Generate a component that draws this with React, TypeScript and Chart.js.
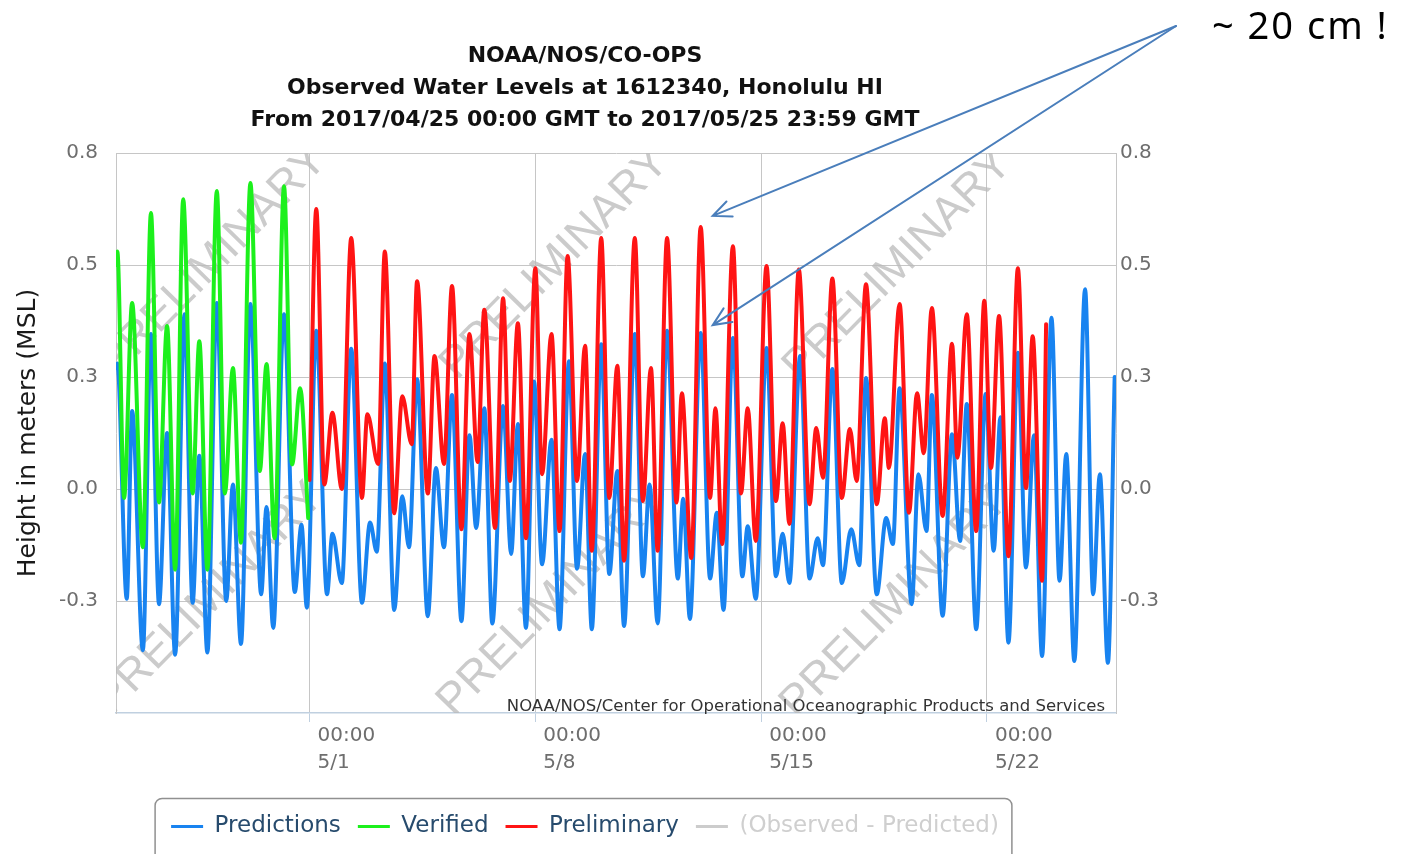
import React, { useEffect, useRef } from "react";
import { Chart, registerables } from "chart.js";

Chart.register(...registerables);

// ---------------- data ----------------
const TITLE_LINES = [
  "NOAA/NOS/CO-OPS",
  "Observed Water Levels at 1612340, Honolulu HI",
  "From 2017/04/25 00:00 GMT to 2017/05/25 23:59 GMT",
];
const Y_AXIS_TITLE = "Height in meters (MSL)";
const SERIES_NAMES = ["Predictions", "Verified", "Preliminary", "(Observed - Predicted)"];

// x values are hours since 2017/04/25 00:00 GMT
const X_MIN = 0;
const X_MAX = 744;
const X_TICK_HOURS = [144, 312, 480, 648];
const X_TICK_LABELS = [
  ["00:00", "5/1"],
  ["00:00", "5/8"],
  ["00:00", "5/15"],
  ["00:00", "5/22"],
];
const Y_MIN = -0.5;
const Y_MAX = 0.75;
const Y_TICK_VALUES = [-0.25, 0, 0.25, 0.5, 0.75];
const Y_TICK_LABELS = ["-0.3", "0.0", "0.3", "0.5", "0.8"];

// [hour, metres]
const predictions: [number, number][] = [
  [0, 0.27], [1, 0.28], [8, -0.245], [12, 0.174], [20, -0.36], [26, 0.346], [32, -0.257], [38, 0.125],
  [44, -0.37], [51, 0.39], [57, -0.254], [62, 0.074], [68, -0.365], [75, 0.415], [82, -0.25], [87, 0.01],
  [93, -0.346], [100, 0.413], [108, -0.235], [112, -0.04], [117, -0.31], [125, 0.39], [133, -0.23], [138, -0.08],
  [142, -0.265], [149, 0.353], [157, -0.235], [161, -0.1], [168, -0.21], [175, 0.313], [183, -0.254], [189, -0.075],
  [194, -0.14], [200, 0.28], [207, -0.27], [213, -0.016], [218, -0.13], [224, 0.245], [232, -0.284], [238, 0.047],
  [244, -0.13], [250, 0.21], [257, -0.295], [263, 0.12], [268, -0.087], [274, 0.18], [280, -0.3], [288, 0.185],
  [294, -0.145], [299, 0.145], [305, -0.31], [311, 0.24], [317, -0.168], [324, 0.11], [330, -0.313], [337, 0.285],
  [343, -0.178], [349, 0.078], [354, -0.313], [361, 0.323], [367, -0.19], [373, 0.04], [378, -0.306], [386, 0.346],
  [392, -0.195], [397, 0.01], [403, -0.3], [410, 0.353], [418, -0.2], [422, -0.022], [427, -0.29], [435, 0.348],
  [442, -0.2], [447, -0.053], [452, -0.27], [459, 0.337], [466, -0.195], [470, -0.083], [476, -0.245], [484, 0.315],
  [491, -0.195], [496, -0.1], [501, -0.21], [509, 0.297], [516, -0.2], [522, -0.11], [526, -0.17], [533, 0.268],
  [540, -0.21], [547, -0.09], [553, -0.17], [558, 0.248], [566, -0.235], [573, -0.065], [578, -0.123], [583, 0.225],
  [592, -0.257], [597, 0.033], [603, -0.094], [607, 0.21], [615, -0.283], [622, 0.122], [628, -0.116], [633, 0.19],
  [640, -0.313], [647, 0.212], [653, -0.138], [658, 0.16], [664, -0.343], [671, 0.304], [677, -0.175], [683, 0.12],
  [689, -0.373], [696, 0.382], [702, -0.205], [707, 0.078], [713, -0.384], [721, 0.446], [727, -0.235], [732, 0.033],
  [738, -0.388], [743, 0.25],
];

const verified: [number, number][] = [
  [0, 0.5], [1, 0.53], [6, -0.02], [12, 0.415], [20, -0.13], [26, 0.616], [32, -0.03], [38, 0.364],
  [44, -0.18], [50, 0.647], [57, -0.01], [62, 0.33], [68, -0.18], [75, 0.665], [81, -0.01], [87, 0.27],
  [93, -0.12], [100, 0.683], [107, 0.04], [112, 0.279], [118, -0.11], [125, 0.676], [131, 0.055], [137, 0.225],
  [143, -0.065],
];

const preliminary: [number, number][] = [
  [144, 0.02], [149, 0.625], [155, 0.01], [161, 0.17], [168, 0.0], [175, 0.56], [183, -0.02], [187, 0.167],
  [195, 0.056], [200, 0.53], [207, -0.054], [213, 0.207], [220, 0.1], [224, 0.464], [232, -0.01], [237, 0.297],
  [244, 0.056], [250, 0.453], [257, -0.09], [263, 0.346], [269, 0.06], [274, 0.4], [282, -0.087], [288, 0.426],
  [293, 0.018], [299, 0.37], [305, -0.11], [312, 0.493], [317, 0.033], [324, 0.346], [330, -0.094], [336, 0.52],
  [343, 0.018], [349, 0.32], [354, -0.138], [361, 0.56], [367, -0.02], [373, 0.275], [378, -0.16], [386, 0.56],
  [392, -0.027], [398, 0.27], [403, -0.138], [410, 0.56], [417, -0.03], [421, 0.214], [428, -0.154], [435, 0.585],
  [442, -0.02], [446, 0.18], [451, -0.123], [459, 0.542], [465, -0.01], [470, 0.18], [476, -0.116], [484, 0.498],
  [491, -0.027], [496, 0.147], [501, -0.078], [508, 0.49], [516, -0.034], [521, 0.136], [526, 0.025], [533, 0.47],
  [540, -0.02], [546, 0.134], [551, 0.018], [558, 0.457], [566, -0.034], [572, 0.158], [575, 0.047], [583, 0.413],
  [590, -0.053], [596, 0.214], [601, 0.08], [607, 0.404], [615, -0.06], [622, 0.324], [626, 0.07], [633, 0.39],
  [640, -0.094], [646, 0.42], [651, 0.047], [657, 0.386], [664, -0.15], [671, 0.493], [677, 0.002], [682, 0.341],
  [689, -0.205], [692, 0.368],
];

const WATERMARK_TEXT = "PRELIMINARY";
const CREDIT_TEXT = "NOAA/NOS/Center for Operational Oceanographic Products and Services";
const NOTE_TEXT = "~ 20 cm !";
// the two peaks the note points at: [hour, metres]
const NOTE_TARGETS: [number, number][] = [
  [435, 0.585],
  [435, 0.348],
];

// ---------------- style ----------------
const BLUE = "#1883f0";
const GREEN = "#1cf01c";
const RED = "#ff1414";
const GREY_SERIES = "#cccccc";
const FONT = "DejaVu Sans";

const watermarkPlugin = {
  id: "watermark",
  beforeDatasetsDraw(chart: any) {
    const { ctx, chartArea } = chart;
    const { left, top, right, bottom } = chartArea;
    ctx.save();
    ctx.beginPath();
    ctx.rect(left, top, right - left, bottom - top);
    ctx.clip();
    ctx.font = `45px "Liberation Sans"`;
    ctx.textBaseline = "alphabetic";
    ctx.textAlign = "left";
    ctx.fillStyle = "rgba(185,185,185,0.75)";
    const starts = [
      [left - 1, top + 226],
      [left + 341, top + 228],
      [left + 684, top + 230],
      [left - 4, top + 563],
      [left + 338, top + 565],
      [left + 681, top + 567],
    ];
    for (const [sx, sy] of starts) {
      ctx.save();
      ctx.translate(sx, sy);
      ctx.rotate((-45.5 * Math.PI) / 180);
      ctx.fillText(WATERMARK_TEXT, 0, 0);
      ctx.restore();
    }
    ctx.restore();
  },
};

const decorPlugin = {
  id: "decor",
  afterDatasetsDraw(chart: any) {
    const { ctx, chartArea } = chart;
    ctx.save();
    ctx.font = `16.5px "${FONT}"`;
    ctx.fillStyle = "#333333";
    ctx.textAlign = "right";
    ctx.textBaseline = "alphabetic";
    ctx.fillText(CREDIT_TEXT, chartArea.right - 11, chartArea.bottom - 2);
    ctx.restore();
  },
  afterDraw(chart: any) {
    const { ctx } = chart;
    // legend frame
    const lg = chart.legend;
    const hb = lg.legendHitBoxes;
    if (hb && hb.length) {
      const first = hb[0];
      const last = hb[hb.length - 1];
      const x0 = first.left - 16;
      const x1 = last.left + last.width + 13;
      const y0 = lg.top + 0.5;
      ctx.save();
      ctx.strokeStyle = "#909090";
      ctx.lineWidth = 1.5;
      ctx.beginPath();
      ctx.roundRect(x0, y0, x1 - x0, 90, 7);
      ctx.stroke();
      ctx.restore();
    }
    // note + arrows
    const xs = chart.scales.x;
    const ys = chart.scales.y;
    ctx.save();
    ctx.font = `38px "Noto Sans"`;
    (ctx as any).letterSpacing = "2px";
    ctx.fillStyle = "#000000";
    ctx.textAlign = "left";
    ctx.textBaseline = "alphabetic";
    ctx.fillText(NOTE_TEXT, 1212, 39);
    (ctx as any).letterSpacing = "0px";
    const sx = 1176;
    const sy = 26;
    ctx.strokeStyle = "#4a7ebb";
    ctx.lineWidth = 2;
    ctx.lineCap = "round";
    NOTE_TARGETS.forEach(([h, v], i) => {
      const tx = xs.getPixelForValue(h) + 12;
      const ty = ys.getPixelForValue(v) - (i === 0 ? 11 : 8);
      ctx.beginPath();
      ctx.moveTo(sx, sy);
      ctx.lineTo(tx, ty);
      const ang = Math.atan2(sy - ty, sx - tx);
      const len = 20;
      const spread = 0.42;
      ctx.moveTo(tx + len * Math.cos(ang + spread), ty + len * Math.sin(ang + spread));
      ctx.lineTo(tx, ty);
      ctx.lineTo(tx + len * Math.cos(ang - spread), ty + len * Math.sin(ang - spread));
      ctx.stroke();
    });
    ctx.restore();
  },
};

function toXY(arr: [number, number][]) {
  return arr.map(([x, y]) => ({ x, y }));
}

export default function App() {
  const canvasRef = useRef<HTMLCanvasElement | null>(null);

  useEffect(() => {
    if (!canvasRef.current) return;
    Chart.defaults.font.family = FONT;
    const lineBase = {
      borderWidth: 4,
      pointRadius: 0,
      cubicInterpolationMode: "monotone",
      borderJoinStyle: "round",
      borderCapStyle: "round",
    };
    const chart = new Chart(canvasRef.current, {
      type: "line",
      data: {
        datasets: [
          {
            ...lineBase,
            label: SERIES_NAMES[0],
            data: toXY(predictions),
            borderColor: BLUE,
            backgroundColor: BLUE,
            order: 3,
          },
          {
            ...lineBase,
            label: SERIES_NAMES[1],
            data: toXY(verified),
            borderColor: GREEN,
            backgroundColor: GREEN,
            order: 1,
          },
          {
            ...lineBase,
            label: SERIES_NAMES[2],
            data: toXY(preliminary),
            borderColor: RED,
            backgroundColor: RED,
            order: 2,
          },
          {
            ...lineBase,
            label: SERIES_NAMES[3],
            data: [],
            borderColor: GREY_SERIES,
            backgroundColor: GREY_SERIES,
            order: 4,
          },
        ],
      },
      options: {
        responsive: false,
        animation: false,
        events: [],
        layout: { padding: { left: 0, right: 234, top: 0, bottom: 6 } },
        scales: {
          x: {
            type: "linear",
            min: X_MIN,
            max: X_MAX,
            afterBuildTicks: (s: any) => {
              s.ticks = X_TICK_HOURS.map((v) => ({ value: v }));
            },
            afterFit: (s: any) => {
              s.height = 85;
            },
            ticks: {
              autoSkip: false,
              maxRotation: 0,
              align: "start",
              labelOffset: 8,
              padding: 0,
              color: "#6e6e6e",
              font: { family: FONT, size: 20, lineHeight: 1.375 },
              callback: (_v: any, i: number) => X_TICK_LABELS[i],
            },
            grid: {
              color: "#c6c6c6",
              lineWidth: 1,
              drawTicks: true,
              tickLength: 9,
              tickColor: "#c0d0e0",
            },
            border: { color: "#c0d0e0", width: 1.5 },
          },
          y: {
            type: "linear",
            position: "left",
            min: Y_MIN,
            max: Y_MAX,
            afterBuildTicks: (s: any) => {
              s.ticks = Y_TICK_VALUES.map((v) => ({ value: v }));
            },
            afterFit: (s: any) => {
              s.width = 116;
            },
            ticks: {
              padding: 18,
              color: "#6e6e6e",
              font: { family: FONT, size: 20 },
              callback: (_v: any, i: number) => Y_TICK_LABELS[i],
            },
            grid: { color: "#c6c6c6", lineWidth: 1, drawTicks: false },
            border: { color: "#c6c6c6", width: 1 },
            title: {
              display: true,
              text: Y_AXIS_TITLE,
              color: "#1a1a1a",
              font: { family: FONT, size: 25, lineHeight: 1.2 },
              padding: { top: 13, bottom: 0 },
            },
          },
          y2: {
            type: "linear",
            position: "right",
            min: Y_MIN,
            max: Y_MAX,
            afterBuildTicks: (s: any) => {
              s.ticks = Y_TICK_VALUES.map((v) => ({ value: v }));
            },
            afterFit: (s: any) => {
              s.width = 54;
            },
            ticks: {
              padding: 4,
              color: "#6e6e6e",
              font: { family: FONT, size: 20 },
              callback: (_v: any, i: number) => Y_TICK_LABELS[i],
            },
            grid: { drawOnChartArea: false, drawTicks: false },
            border: { color: "#c6c6c6", width: 1 },
          },
        },
        plugins: {
          title: {
            display: true,
            text: TITLE_LINES,
            color: "#111111",
            font: { family: FONT, size: 22, weight: "bold", lineHeight: 32 / 22 },
            padding: { top: 40, bottom: 17 },
          },
          legend: {
            display: true,
            position: "bottom",
            labels: {
              usePointStyle: true,
              pointStyle: "line",
              pointStyleWidth: 32,
              padding: 17,
              color: "#274b6d",
              font: { family: FONT, size: 23 },
              sort: (a: any, b: any) => a.datasetIndex - b.datasetIndex,
              generateLabels: (c: any) => {
                const items = (Chart.defaults.plugins.legend.labels as any).generateLabels(c);
                items.forEach((it: any) => {
                  it.lineWidth = 3;
                  if (it.datasetIndex === 3) it.fontColor = "#cfcfcf";
                });
                return items;
              },
            },
          },
          tooltip: { enabled: false },
        },
      } as any,
      plugins: [watermarkPlugin, decorPlugin],
    });
    return () => chart.destroy();
  }, []);

  return (
    <div
      style={{
        position: "fixed",
        left: 0,
        top: 0,
        width: 1404,
        height: 854,
        background: "#ffffff",
        overflow: "hidden",
      }}
    >
      <canvas ref={canvasRef} width={1404} height={854} style={{ display: "block" }} />
    </div>
  );
}
